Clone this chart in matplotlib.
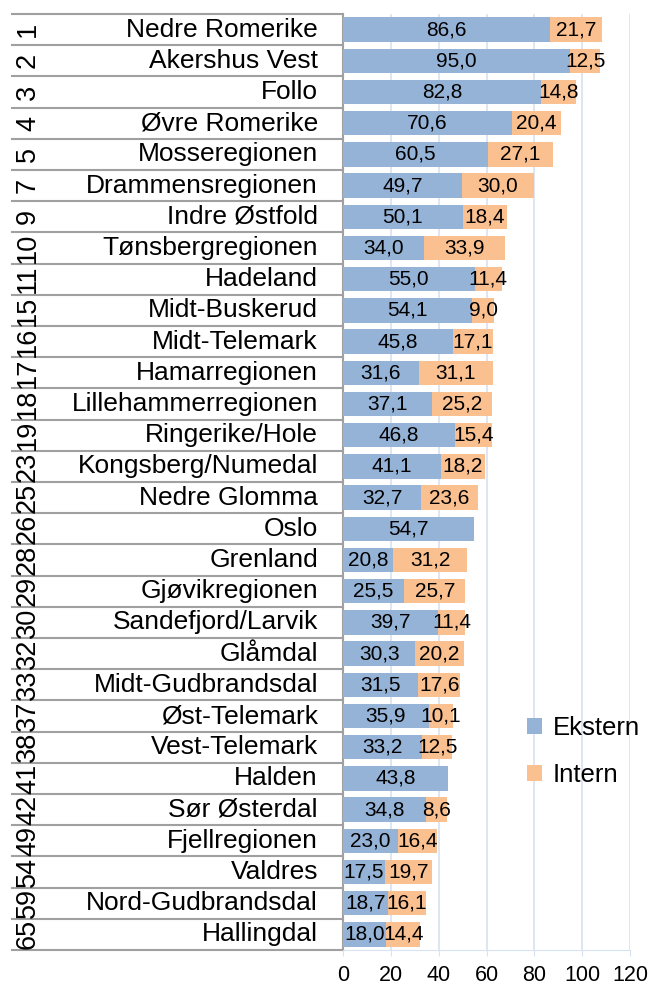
import matplotlib
matplotlib.use("Agg")
import matplotlib.pyplot as plt
import matplotlib.transforms as mtransforms

plt.rcParams['font.family'] = ['Liberation Sans', 'DejaVu Sans']

regions = ["Nedre Romerike", "Akershus Vest", "Follo", "Øvre Romerike", "Mosseregionen",
           "Drammensregionen", "Indre Østfold", "Tønsbergregionen", "Hadeland", "Midt-Buskerud",
           "Midt-Telemark", "Hamarregionen", "Lillehammerregionen", "Ringerike/Hole",
           "Kongsberg/Numedal", "Nedre Glomma", "Oslo", "Grenland", "Gjøvikregionen",
           "Sandefjord/Larvik", "Glåmdal", "Midt-Gudbrandsdal", "Øst-Telemark", "Vest-Telemark",
           "Halden", "Sør Østerdal", "Fjellregionen", "Valdres", "Nord-Gudbrandsdal", "Hallingdal"]
ranks = ["1", "2", "3", "4", "5", "7", "9", "10", "11", "15", "16", "17", "18", "19", "23",
         "25", "26", "28", "29", "30", "32", "33", "37", "38", "41", "42", "49", "54", "59", "65"]
ekstern = [86.6, 95.0, 82.8, 70.6, 60.5, 49.7, 50.1, 34.0, 55.0, 54.1, 45.8, 31.6, 37.1, 46.8,
           41.1, 32.7, 54.7, 20.8, 25.5, 39.7, 30.3, 31.5, 35.9, 33.2, 43.8, 34.8, 23.0, 17.5,
           18.7, 18.0]
intern = [21.7, 12.5, 14.8, 20.4, 27.1, 30.0, 18.4, 33.9, 11.4, 9.0, 17.1, 31.1, 25.2, 15.4,
          18.2, 23.6, 0, 31.2, 25.7, 11.4, 20.2, 17.6, 10.1, 12.5, 0, 8.6, 16.4, 19.7, 16.1, 14.4]

blue = "#95B3D7"
orange = "#FAC090"
grid = "#D9E2F1"
sep = "#A0A0A0"

fig = plt.figure(figsize=(6.49, 9.85), dpi=100)
ax = fig.add_axes([343 / 649, 35 / 985, 287 / 649, 936 / 985])

n = len(regions)
y = list(range(n))
b1 = ax.barh(y, ekstern, height=0.78, color=blue, label="Ekstern", zorder=3)
b2 = ax.barh(y, intern, left=ekstern, height=0.78, color=orange, label="Intern", zorder=3)

def fmt(v):
    return ("%.1f" % v).replace(".", ",")

for i in range(n):
    ax.text(ekstern[i] / 2, i, fmt(ekstern[i]), ha="center", va="center", fontsize=15, zorder=4)
    if intern[i] > 0:
        ax.text(ekstern[i] + intern[i] / 2, i, fmt(intern[i]), ha="center", va="center",
                fontsize=15, zorder=4)

ax.set_ylim(n - 0.5, -0.5)
ax.set_xlim(0, 120)
ax.set_xticks([0, 20, 40, 60, 80, 100, 120])
ax.tick_params(axis="x", labelsize=15.5, length=4, color=grid, pad=7)
ax.set_yticks([])
ax.grid(axis="x", color=grid, linewidth=1.2, zorder=0)
for s in ["top", "right"]:
    ax.spines[s].set_visible(False)
ax.spines["bottom"].set_color(grid)
ax.spines["left"].set_color(sep)
ax.spines["left"].set_linewidth(1.5)

# two-level category labels on the left
trans = mtransforms.blended_transform_factory(ax.transAxes, ax.transData)
x_left = (12 - 343) / 287
x_name = -25 / 287
x_rank = (28 - 343) / 287
for i in range(n + 1):
    ax.plot([x_left, 0], [i - 0.5, i - 0.5], color=sep, linewidth=1.5,
            transform=trans, clip_on=False)
for i in range(n):
    ax.text(x_name, i, regions[i], ha="right", va="center", fontsize=19, transform=trans)
    ax.text(x_rank, i, ranks[i], ha="center", va="center", fontsize=19.5, rotation=90,
            transform=trans)

fig.legend(handles=[b1, b2], labels=["Ekstern", "Intern"], loc="center left",
           bbox_to_anchor=(0.812, 0.237), frameon=False, fontsize=18.5,
           handlelength=0.6, handleheight=0.6, handletextpad=0.4, labelspacing=0.9,
           borderpad=0, borderaxespad=0)

fig.savefig("out.png", dpi=100)
